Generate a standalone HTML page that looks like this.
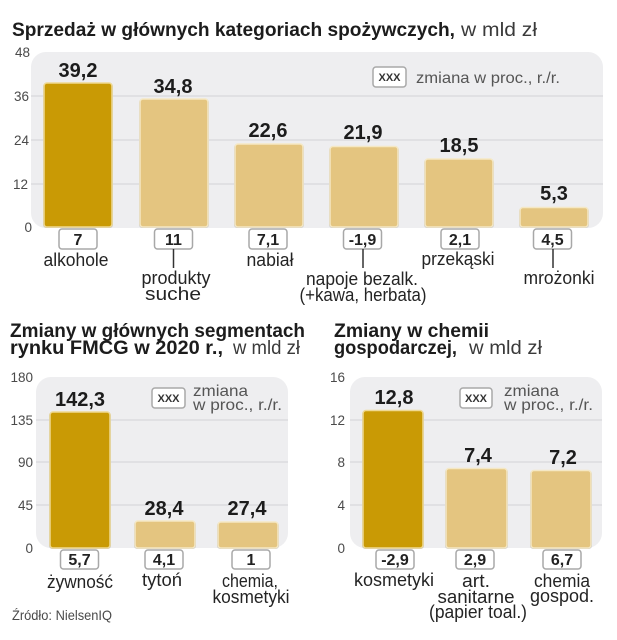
<!DOCTYPE html>
<html><head><meta charset="utf-8"><style>
html,body{margin:0;padding:0;background:#fff;}
svg{display:block;}
text{font-family:"Liberation Sans",sans-serif;}
.t{font-weight:bold;fill:#1c1c1c;font-size:19px;}
.t2{font-weight:bold;fill:#1c1c1c;font-size:19px;}
.u{fill:#3a3a3a;font-size:19px;}
.ax{fill:#4a4a4a;font-size:13.5px;}
.v{font-weight:bold;fill:#1c1c1c;font-size:20px;text-anchor:middle;}
.c{font-weight:bold;fill:#222;font-size:16px;text-anchor:middle;}
.l{fill:#242424;font-size:18px;text-anchor:middle;}
.lg{fill:#555;font-size:16px;}
.xx{font-weight:bold;fill:#333;font-size:11px;text-anchor:middle;}
.g{stroke:#d3d3d6;stroke-width:1;}
.sh{fill:none;stroke:#b8b8b8;stroke-width:1;opacity:.8;}
.bd{fill:#c99a05;stroke:#efd993;stroke-width:1.5;}
.bl{fill:#e4c580;stroke:#f5e8c4;stroke-width:1.5;}
.bx{fill:#fff;stroke:#a8a8a8;stroke-width:1.5;}
.cn{stroke:#333;stroke-width:1.5;}
</style></head><body>
<svg width="617" height="640" viewBox="0 0 617 640" xmlns="http://www.w3.org/2000/svg">
<rect width="617" height="640" fill="#fff"/>

<!-- ===== TOP CHART ===== -->
<text x="12" y="36" class="t" textLength="443" lengthAdjust="spacingAndGlyphs">Sprzedaż w głównych kategoriach spożywczych,</text>
<text x="461" y="36" class="u" textLength="76" lengthAdjust="spacingAndGlyphs">w mld zł</text>

<rect x="31" y="52" width="572" height="176" rx="15" fill="#eeeef0"/>
<line x1="31" y1="96" x2="603" y2="96" class="g"/>
<line x1="31" y1="140" x2="603" y2="140" class="g"/>
<line x1="31" y1="184" x2="603" y2="184" class="g"/>

<text x="30" y="57" class="ax" text-anchor="end">48</text>
<text x="29" y="101" class="ax" text-anchor="end">36</text>
<text x="29" y="145" class="ax" text-anchor="end">24</text>
<text x="28" y="189" class="ax" text-anchor="end">12</text>
<text x="32" y="232" class="ax" text-anchor="end">0</text>

<!-- legend -->
<rect x="373" y="67" width="33" height="20" rx="3" class="bx"/>
<text x="389.5" y="81" class="xx">XXX</text>
<text x="416" y="83" class="lg" textLength="144" lengthAdjust="spacingAndGlyphs">zmiana w proc., r./r.</text>

<!-- bars -->
<rect x="43.5" y="83.5" width="69" height="144" rx="3" class="sh"/>
<rect x="44" y="83" width="68" height="144" rx="3" class="bd"/>
<rect x="139.5" y="99.5" width="69" height="128" rx="3" class="sh"/>
<rect x="140" y="99" width="68" height="128" rx="3" class="bl"/>
<rect x="234.5" y="144.5" width="69" height="83" rx="3" class="sh"/>
<rect x="235" y="144" width="68" height="83" rx="3" class="bl"/>
<rect x="329.5" y="147" width="69" height="80.5" rx="3" class="sh"/>
<rect x="330" y="146.5" width="68" height="80.5" rx="3" class="bl"/>
<rect x="424.5" y="159.5" width="69" height="68" rx="3" class="sh"/>
<rect x="425" y="159" width="68" height="68" rx="3" class="bl"/>
<rect x="519.5" y="208" width="69" height="19.5" rx="3" class="sh"/>
<rect x="520" y="207.5" width="68" height="19.5" rx="3" class="bl"/>

<text x="78" y="77" class="v">39,2</text>
<text x="173" y="93" class="v">34,8</text>
<text x="268" y="137" class="v">22,6</text>
<text x="363" y="139" class="v">21,9</text>
<text x="459" y="152" class="v">18,5</text>
<text x="554" y="200" class="v">5,3</text>

<!-- change boxes -->
<rect x="59" y="229" width="38" height="20" rx="3" class="bx"/><text x="78" y="245" class="c">7</text>
<rect x="154.5" y="229" width="38" height="20" rx="3" class="bx"/><text x="173.5" y="245" class="c">11</text>
<rect x="249" y="229" width="38" height="20" rx="3" class="bx"/><text x="268" y="245" class="c">7,1</text>
<rect x="343.5" y="229" width="38" height="20" rx="3" class="bx"/><text x="362.5" y="245" class="c">-1,9</text>
<rect x="441" y="229" width="38" height="20" rx="3" class="bx"/><text x="460" y="245" class="c">2,1</text>
<rect x="533.5" y="229" width="38" height="20" rx="3" class="bx"/><text x="552.5" y="245" class="c">4,5</text>

<line x1="173.5" y1="249" x2="173.5" y2="268" class="cn"/>
<line x1="363" y1="249" x2="363" y2="268" class="cn"/>
<line x1="553" y1="249" x2="553" y2="268" class="cn"/>

<text x="76" y="266" class="l" textLength="65" lengthAdjust="spacingAndGlyphs">alkohole</text>
<text x="270" y="266" class="l" textLength="47" lengthAdjust="spacingAndGlyphs">nabiał</text>
<text x="458" y="265" class="l" textLength="73" lengthAdjust="spacingAndGlyphs">przekąski</text>
<text x="176" y="284" class="l" textLength="69" lengthAdjust="spacingAndGlyphs">produkty</text>
<text x="173" y="300" class="l" textLength="56" lengthAdjust="spacingAndGlyphs">suche</text>
<text x="362" y="285" class="l" textLength="112" lengthAdjust="spacingAndGlyphs">napoje bezalk.</text>
<text x="363" y="301" class="l" textLength="127" lengthAdjust="spacingAndGlyphs">(+kawa, herbata)</text>
<text x="559" y="284" class="l" textLength="71" lengthAdjust="spacingAndGlyphs">mrożonki</text>

<!-- ===== BOTTOM LEFT ===== -->
<text x="10" y="337" class="t2" textLength="295" lengthAdjust="spacingAndGlyphs">Zmiany w głównych segmentach</text>
<text x="10" y="354" class="t2" textLength="213" lengthAdjust="spacingAndGlyphs">rynku FMCG w 2020 r.,</text>
<text x="233" y="354" class="u" textLength="67" lengthAdjust="spacingAndGlyphs">w mld zł</text>

<rect x="36" y="377" width="252" height="171" rx="15" fill="#eeeef0"/>
<line x1="36" y1="420" x2="288" y2="420" class="g"/>
<line x1="36" y1="462" x2="288" y2="462" class="g"/>
<line x1="36" y1="505" x2="288" y2="505" class="g"/>

<text x="33" y="382" class="ax" text-anchor="end">180</text>
<text x="33" y="425" class="ax" text-anchor="end">135</text>
<text x="33" y="467" class="ax" text-anchor="end">90</text>
<text x="33" y="510" class="ax" text-anchor="end">45</text>
<text x="33" y="553" class="ax" text-anchor="end">0</text>

<rect x="152" y="388" width="33" height="20" rx="3" class="bx"/>
<text x="168.5" y="402" class="xx">XXX</text>
<text x="193" y="396" class="lg" textLength="55" lengthAdjust="spacingAndGlyphs">zmiana</text>
<text x="193" y="410" class="lg" textLength="89" lengthAdjust="spacingAndGlyphs">w proc., r./r.</text>

<rect x="49.5" y="412.5" width="61" height="136" rx="3" class="sh"/>
<rect x="50" y="412" width="60" height="136" rx="3" class="bd"/>
<rect x="134.5" y="521.5" width="61" height="27" rx="3" class="sh"/>
<rect x="135" y="521" width="60" height="27" rx="3" class="bl"/>
<rect x="217.5" y="522.5" width="61" height="26" rx="3" class="sh"/>
<rect x="218" y="522" width="60" height="26" rx="3" class="bl"/>

<text x="80" y="406" class="v">142,3</text>
<text x="164" y="515" class="v">28,4</text>
<text x="247" y="515" class="v">27,4</text>

<rect x="60.5" y="550" width="38" height="19" rx="3" class="bx"/><text x="79.5" y="565" class="c">5,7</text>
<rect x="145" y="550" width="38" height="19" rx="3" class="bx"/><text x="164" y="565" class="c">4,1</text>
<rect x="232" y="550" width="38" height="19" rx="3" class="bx"/><text x="251" y="565" class="c">1</text>

<text x="80" y="588" class="l" textLength="66" lengthAdjust="spacingAndGlyphs">żywność</text>
<text x="162" y="586" class="l" textLength="40" lengthAdjust="spacingAndGlyphs">tytoń</text>
<text x="250" y="587" class="l" textLength="56" lengthAdjust="spacingAndGlyphs">chemia,</text>
<text x="251" y="603" class="l" textLength="77" lengthAdjust="spacingAndGlyphs">kosmetyki</text>

<text x="12" y="620" fill="#4a4a4a" font-size="14" textLength="100" lengthAdjust="spacingAndGlyphs">Źródło: NielsenIQ</text>

<!-- ===== BOTTOM RIGHT ===== -->
<text x="334" y="337" class="t2" textLength="155" lengthAdjust="spacingAndGlyphs">Zmiany w chemii</text>
<text x="334" y="354" class="t2" textLength="123" lengthAdjust="spacingAndGlyphs">gospodarczej,</text>
<text x="469" y="354" class="u" textLength="73" lengthAdjust="spacingAndGlyphs">w mld zł</text>

<rect x="350" y="377" width="252" height="171" rx="15" fill="#eeeef0"/>
<line x1="350" y1="420" x2="602" y2="420" class="g"/>
<line x1="350" y1="462" x2="602" y2="462" class="g"/>
<line x1="350" y1="505" x2="602" y2="505" class="g"/>

<text x="345" y="382" class="ax" text-anchor="end">16</text>
<text x="345" y="425" class="ax" text-anchor="end">12</text>
<text x="345" y="467" class="ax" text-anchor="end">8</text>
<text x="345" y="510" class="ax" text-anchor="end">4</text>
<text x="345" y="553" class="ax" text-anchor="end">0</text>

<rect x="460" y="388" width="32" height="20" rx="3" class="bx"/>
<text x="476" y="402" class="xx">XXX</text>
<text x="504" y="396" class="lg" textLength="55" lengthAdjust="spacingAndGlyphs">zmiana</text>
<text x="504" y="410" class="lg" textLength="89" lengthAdjust="spacingAndGlyphs">w proc., r./r.</text>

<rect x="362.5" y="411" width="61" height="137.5" rx="3" class="sh"/>
<rect x="363" y="410.5" width="60" height="137.5" rx="3" class="bd"/>
<rect x="445.5" y="469" width="62" height="79.5" rx="3" class="sh"/>
<rect x="446" y="468.5" width="61" height="79.5" rx="3" class="bl"/>
<rect x="530.5" y="471" width="61" height="77.5" rx="3" class="sh"/>
<rect x="531" y="470.5" width="60" height="77.5" rx="3" class="bl"/>

<text x="394" y="404" class="v">12,8</text>
<text x="478" y="462" class="v">7,4</text>
<text x="563" y="464" class="v">7,2</text>

<rect x="376" y="550" width="38" height="19" rx="3" class="bx"/><text x="395" y="565" class="c">-2,9</text>
<rect x="456" y="550" width="38" height="19" rx="3" class="bx"/><text x="475" y="565" class="c">2,9</text>
<rect x="543" y="550" width="38" height="19" rx="3" class="bx"/><text x="562" y="565" class="c">6,7</text>

<text x="394" y="586" class="l" textLength="80" lengthAdjust="spacingAndGlyphs">kosmetyki</text>
<text x="476" y="587" class="l" textLength="28" lengthAdjust="spacingAndGlyphs">art.</text>
<text x="476" y="603" class="l" textLength="77" lengthAdjust="spacingAndGlyphs">sanitarne</text>
<text x="478" y="618" class="l" textLength="98" lengthAdjust="spacingAndGlyphs">(papier toal.)</text>
<text x="562" y="587" class="l" textLength="56" lengthAdjust="spacingAndGlyphs">chemia</text>
<text x="562" y="602" class="l" textLength="64" lengthAdjust="spacingAndGlyphs">gospod.</text>
</svg>
</body></html>
